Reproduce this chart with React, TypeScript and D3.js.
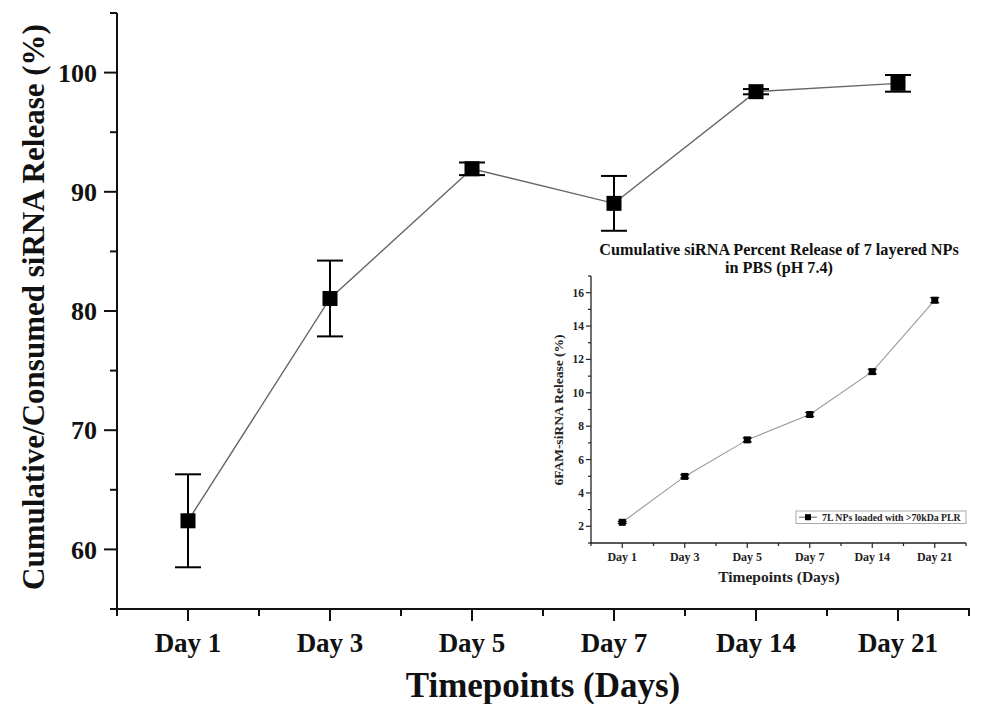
import React from "react";
import * as d3 from "d3";

const categories = ["Day 1", "Day 3", "Day 5", "Day 7", "Day 14", "Day 21"];
const mainValues = [62.4, 81.05, 91.93, 89.03, 98.4, 99.1];
const mainErrors = [3.9, 3.18, 0.53, 2.3, 0.22, 0.7];
const mainYTicks = [60, 70, 80, 90, 100];
const mainYMinor = [55, 65, 75, 85, 95, 105];

const insetValues = [2.24, 4.99, 7.18, 8.7, 11.27, 15.55];
const insetErrors = [0.06, 0.1, 0.12, 0.12, 0.14, 0.15];
const insetYTicks = [2, 4, 6, 8, 10, 12, 14, 16];
const insetYMinor = [1, 3, 5, 7, 9, 11, 13, 15, 17];

const FONT = "'Liberation Serif', 'Times New Roman', serif";

export default function App() {
  // main scales
  const x = d3.scaleBand<string>().domain(categories).range([117, 969]);
  const y = d3.scaleLinear().domain([55, 105]).range([609, 13]);
  const cx = (c: string) => (x(c) as number) + x.bandwidth() / 2;
  const line = d3
    .line<number>()
    .x((_, i) => cx(categories[i]))
    .y((d) => y(d));

  // inset scales
  const xi = d3.scaleBand<string>().domain(categories).range([591, 966]);
  const yi = d3.scaleLinear().domain([1, 17]).range([543, 276]);
  const cxi = (c: string) => (xi(c) as number) + xi.bandwidth() / 2;
  const lineI = d3
    .line<number>()
    .x((_, i) => cxi(categories[i]))
    .y((d) => yi(d));

  const edgesMain = [...categories.map((c) => x(c) as number), 969];
  const edgesInset = [...categories.map((c) => xi(c) as number), 966];

  return (
    <svg
      width={1000}
      height={704}
      style={{ position: "absolute", left: 0, top: 0, display: "block", background: "#fff" }}
      fontFamily={FONT}
      fontWeight="bold"
    >
      <rect x={0} y={0} width={1000} height={704} fill="#fff" />
      {/* ===== Main chart ===== */}
      {/* Y axis */}
      <line x1={117} x2={117} y1={y(105)} y2={y(55)} stroke="#111" strokeWidth={2} />
      {mainYTicks.map((t) => (
        <g key={"my" + t}>
          <line x1={104} x2={117} y1={y(t)} y2={y(t)} stroke="#111" strokeWidth={2} />
          <text x={97} y={y(t)} dy="0.35em" textAnchor="end" fontSize={26} fill="#111">
            {t}
          </text>
        </g>
      ))}
      {mainYMinor.map((t) => (
        <line key={"mym" + t} x1={110} x2={117} y1={y(t)} y2={y(t)} stroke="#111" strokeWidth={2} />
      ))}
      {/* X axis */}
      <line x1={110} x2={970} y1={609} y2={609} stroke="#111" strokeWidth={2} />
      {categories.map((c) => (
        <g key={"mx" + c}>
          <line x1={cx(c)} x2={cx(c)} y1={609} y2={621} stroke="#111" strokeWidth={2} />
          <text x={cx(c)} y={652} textAnchor="middle" fontSize={27} fill="#111">
            {c}
          </text>
        </g>
      ))}
      {edgesMain.map((e, i) => (
        <line key={"mxm" + i} x1={e} x2={e} y1={609} y2={616} stroke="#111" strokeWidth={2} />
      ))}
      <text x={543} y={697} textAnchor="middle" fontSize={35} fill="#111">
        Timepoints (Days)
      </text>
      <text
        transform={`translate(44, 307) rotate(-90)`}
        textAnchor="middle"
        fontSize={31}
        fill="#111"
      >
        Cumulative/Consumed siRNA Release (%)
      </text>
      {/* line */}
      <path d={line(mainValues) || ""} fill="none" stroke="#666" strokeWidth={1.4} />
      {/* error bars + markers */}
      {mainValues.map((v, i) => {
        const px = cx(categories[i]);
        const e = mainErrors[i];
        return (
          <g key={"mp" + i}>
            <line x1={px} x2={px} y1={y(v + e)} y2={y(v - e)} stroke="#000" strokeWidth={2} />
            <line x1={px - 13} x2={px + 13} y1={y(v + e)} y2={y(v + e)} stroke="#000" strokeWidth={2} />
            <line x1={px - 13} x2={px + 13} y1={y(v - e)} y2={y(v - e)} stroke="#000" strokeWidth={2} />
            <rect x={px - 7.5} y={y(v) - 7.5} width={15} height={15} fill="#000" />
          </g>
        );
      })}

      {/* ===== Inset ===== */}
      <text x={779} y={255} textAnchor="middle" fontSize={16.2} fill="#111">
        Cumulative siRNA Percent Release of 7 layered NPs
      </text>
      <text x={779} y={273} textAnchor="middle" fontSize={16.2} fill="#111">
        in PBS (pH 7.4)
      </text>
      <line x1={591} x2={591} y1={yi(17)} y2={yi(1)} stroke="#222" strokeWidth={1.3} />
      {insetYTicks.map((t) => (
        <g key={"iy" + t}>
          <line x1={586} x2={591} y1={yi(t)} y2={yi(t)} stroke="#222" strokeWidth={1.2} />
          <text x={584} y={yi(t)} dy="0.35em" textAnchor="end" fontSize={11.5} fill="#222">
            {t}
          </text>
        </g>
      ))}
      {insetYMinor.map((t) => (
        <line key={"iym" + t} x1={588} x2={591} y1={yi(t)} y2={yi(t)} stroke="#222" strokeWidth={1.2} />
      ))}
      <line x1={590} x2={966} y1={543} y2={543} stroke="#222" strokeWidth={1.3} />
      {categories.map((c) => (
        <g key={"ix" + c}>
          <line x1={cxi(c)} x2={cxi(c)} y1={543} y2={548} stroke="#222" strokeWidth={1.2} />
          <text x={cxi(c)} y={561} textAnchor="middle" fontSize={12} fill="#222">
            {c}
          </text>
        </g>
      ))}
      {edgesInset.map((e, i) => (
        <line key={"ixm" + i} x1={e} x2={e} y1={543} y2={546} stroke="#222" strokeWidth={1.2} />
      ))}
      <text x={779} y={582} textAnchor="middle" fontSize={15.5} fill="#222">
        Timepoints (Days)
      </text>
      <text
        transform={`translate(563, 410) rotate(-90)`}
        textAnchor="middle"
        fontSize={13.5}
        fill="#222"
      >
        6FAM-siRNA Release (%)
      </text>
      <path d={lineI(insetValues) || ""} fill="none" stroke="#999" strokeWidth={1.1} />
      {insetValues.map((v, i) => {
        const px = cxi(categories[i]);
        const e = insetErrors[i];
        return (
          <g key={"ip" + i}>
            <line x1={px} x2={px} y1={yi(v + e)} y2={yi(v - e)} stroke="#000" strokeWidth={1.2} />
            <line x1={px - 4.5} x2={px + 4.5} y1={yi(v + e)} y2={yi(v + e)} stroke="#000" strokeWidth={1.2} />
            <line x1={px - 4.5} x2={px + 4.5} y1={yi(v - e)} y2={yi(v - e)} stroke="#000" strokeWidth={1.2} />
            <rect x={px - 3.5} y={yi(v) - 3.5} width={7} height={7} fill="#000" />
          </g>
        );
      })}
      {/* legend */}
      <rect x={796} y={511} width={170} height={12.5} fill="#fff" stroke="#aaa" strokeWidth={1} />
      <line x1={799} x2={817} y1={517.2} y2={517.2} stroke="#666" strokeWidth={1} />
      <rect x={805} y={514.2} width={6} height={6} fill="#000" />
      <text x={822} y={520.8} fontSize={9.8} fill="#222">
        7L NPs loaded with &gt;70kDa PLR
      </text>
    </svg>
  );
}
